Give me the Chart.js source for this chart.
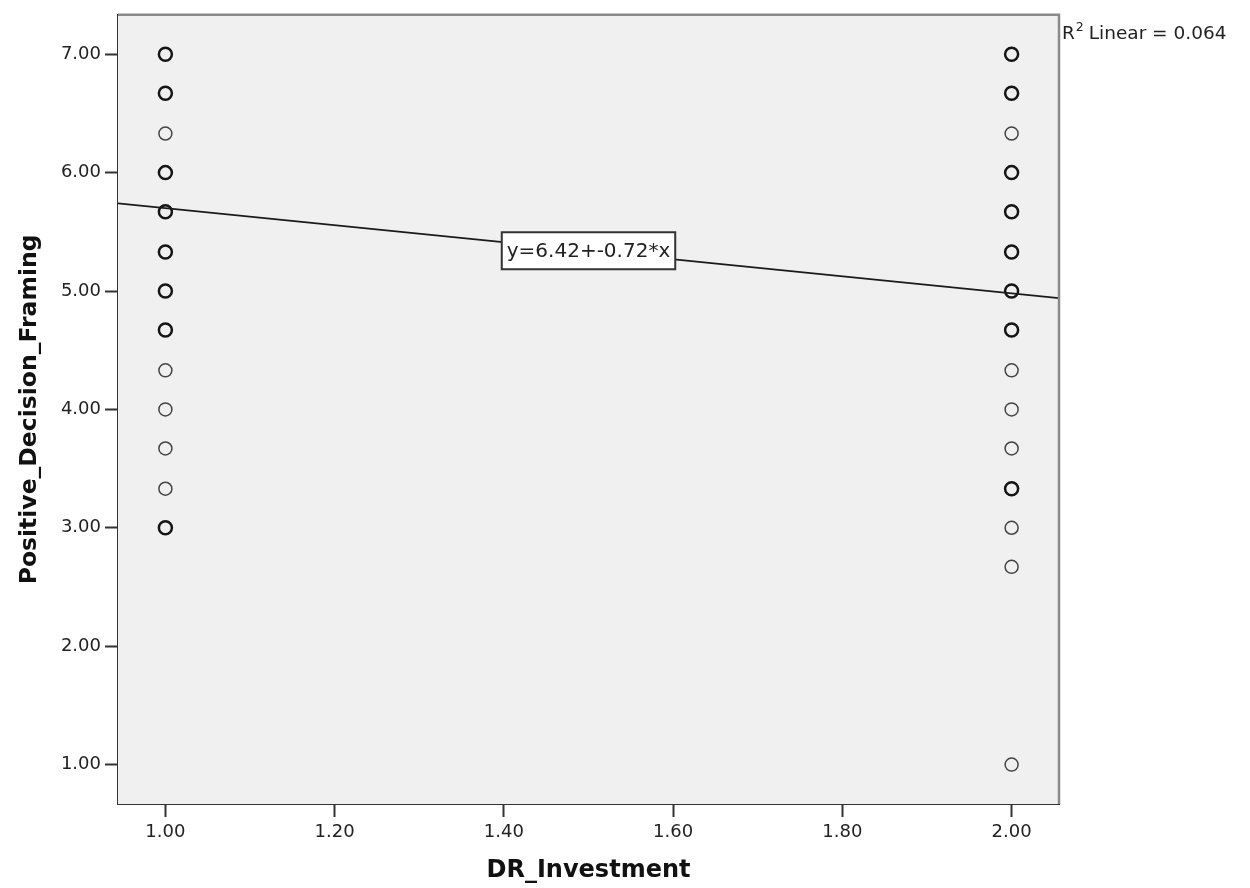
<!DOCTYPE html>
<html>
<head>
<meta charset="utf-8">
<script src="https://cdn.jsdelivr.net/npm/chart.js@4.4.1/dist/chart.umd.min.js"></script>
<style>
  body { margin: 0; background: #fff; }
  #wrap { width: 1250px; height: 888px; }
</style>
</head>
<body>
<div id="wrap"><canvas id="graficoDispersion" width="1250" height="888"></canvas></div>
<script>
// DR_Investment = 1 : circles drawn heavier where several cases overlap
const dr1Heavy = [7.00, 6.67, 6.00, 5.67, 5.33, 5.00, 4.67, 3.00];
const dr1Light = [6.33, 4.33, 4.00, 3.67, 3.33];
// DR_Investment = 2
const dr2Heavy = [7.00, 6.67, 6.00, 5.67, 5.33, 5.00, 4.67, 3.33];
const dr2Light = [6.33, 4.33, 4.00, 3.67, 3.00, 2.67, 1.00];

const xTicks = [1.00, 1.20, 1.40, 1.60, 1.80, 2.00];
const yTicks = [1.00, 2.00, 3.00, 4.00, 5.00, 6.00, 7.00];

const intercept = 6.42;
const slope = -0.72;
const r2 = 0.064;

const xMin = 0.944, xMax = 2.056;
const yMin = 0.667, yMax = 7.333;

const FONT = "'DejaVu Sans', sans-serif";

const toPoints = (x, arr) => arr.map(v => ({ x: x, y: v }));

const marcoPlugin = {
    id: 'marco',
    beforeDatasetsDraw(chart) {
        const { ctx, chartArea: a } = chart;
        ctx.save();
        ctx.fillStyle = '#f0f0f0';
        ctx.fillRect(a.left, a.top, a.right - a.left, a.bottom - a.top);
        ctx.restore();
    },
    afterDatasetsDraw(chart) {
        const { ctx, chartArea: a, scales } = chart;
        ctx.save();
        // top and right frame
        ctx.strokeStyle = '#8a8a8a';
        ctx.lineWidth = 2.5;
        ctx.beginPath();
        ctx.moveTo(a.left, a.top);
        ctx.lineTo(a.right, a.top);
        ctx.lineTo(a.right, a.bottom);
        ctx.stroke();

        // equation label on the fit line
        const xv = 1.5;
        const px = scales.x.getPixelForValue(xv);
        const py = scales.y.getPixelForValue(intercept + slope * xv);
        const txt = 'y=' + intercept.toFixed(2) + '+' + slope.toFixed(2) + '*x';
        ctx.font = '20px ' + FONT;
        const w = ctx.measureText(txt).width + 10;
        const h = 37;
        ctx.fillStyle = '#ffffff';
        ctx.fillRect(px - w / 2, py - h / 2, w, h);
        ctx.strokeStyle = '#333';
        ctx.lineWidth = 2;
        ctx.strokeRect(px - w / 2, py - h / 2, w, h);
        ctx.fillStyle = '#222';
        ctx.textAlign = 'center';
        ctx.textBaseline = 'middle';
        ctx.fillText(txt, px, py + 1);

        // R squared note
        ctx.textAlign = 'left';
        ctx.textBaseline = 'alphabetic';
        const bx = a.right + 3, by = a.top + 24;
        ctx.font = '18.5px ' + FONT;
        ctx.fillText('R', bx, by);
        const rw = ctx.measureText('R').width;
        ctx.font = '12.5px ' + FONT;
        ctx.fillText('2', bx + rw + 1, by - 8);
        ctx.font = '18.5px ' + FONT;
        ctx.fillText(' Linear = ' + r2.toFixed(3), bx + rw + 8, by);
        ctx.restore();
    }
};

const ctx = document.getElementById('graficoDispersion').getContext('2d');
new Chart(ctx, {
    type: 'scatter',
    data: {
        datasets: [
            {
                label: 'fit',
                type: 'line',
                data: [
                    { x: xMin, y: intercept + slope * xMin },
                    { x: xMax, y: intercept + slope * xMax }
                ],
                borderColor: '#1a1a1a',
                borderWidth: 1.6,
                pointRadius: 0,
                fill: false
            },
            {
                label: 'heavy',
                data: toPoints(1, dr1Heavy).concat(toPoints(2, dr2Heavy)),
                pointStyle: 'circle',
                pointRadius: 6.5,
                backgroundColor: 'rgba(0,0,0,0)',
                borderColor: '#151515',
                borderWidth: 2.5
            },
            {
                label: 'light',
                data: toPoints(1, dr1Light).concat(toPoints(2, dr2Light)),
                pointStyle: 'circle',
                pointRadius: 6.5,
                backgroundColor: 'rgba(0,0,0,0)',
                borderColor: '#444',
                borderWidth: 1.5
            }
        ]
    },
    options: {
        responsive: false,
        animation: false,
        layout: {
            padding: { top: 14, right: 191, left: 0, bottom: 0 }
        },
        plugins: {
            legend: { display: false },
            tooltip: { enabled: false }
        },
        scales: {
            x: {
                type: 'linear',
                min: xMin,
                max: xMax,
                afterBuildTicks: scale => { scale.ticks = xTicks.map(v => ({ value: v })); },
                afterFit: scale => { scale.height = 84; },
                grid: {
                    drawOnChartArea: false,
                    drawTicks: true,
                    tickLength: 13,
                    tickColor: '#333',
                    tickWidth: 2
                },
                border: { display: true, color: '#333', width: 2 },
                ticks: {
                    padding: 5,
                    color: '#222',
                    font: { family: FONT, size: 18 },
                    callback: v => Number(v).toFixed(2)
                },
                title: {
                    display: true,
                    text: 'DR_Investment',
                    color: '#111',
                    font: { family: FONT, size: 24, weight: 'bold' },
                    padding: { top: 0, bottom: 3 }
                }
            },
            y: {
                type: 'linear',
                min: yMin,
                max: yMax,
                afterBuildTicks: scale => { scale.ticks = yTicks.map(v => ({ value: v })); },
                afterFit: scale => { scale.width = 118; },
                grid: {
                    drawOnChartArea: false,
                    drawTicks: true,
                    tickLength: 13,
                    tickColor: '#333',
                    tickWidth: 2
                },
                border: { display: true, color: '#333', width: 2 },
                ticks: {
                    padding: 4,
                    color: '#222',
                    font: { family: FONT, size: 18 },
                    callback: v => Number(v).toFixed(2)
                },
                title: {
                    display: true,
                    text: 'Positive_Decision_Framing',
                    color: '#111',
                    font: { family: FONT, size: 23.5, weight: 'bold' },
                    padding: { top: 16, bottom: 0 }
                }
            }
        }
    },
    plugins: [marcoPlugin]
});
</script>
</body>
</html>
